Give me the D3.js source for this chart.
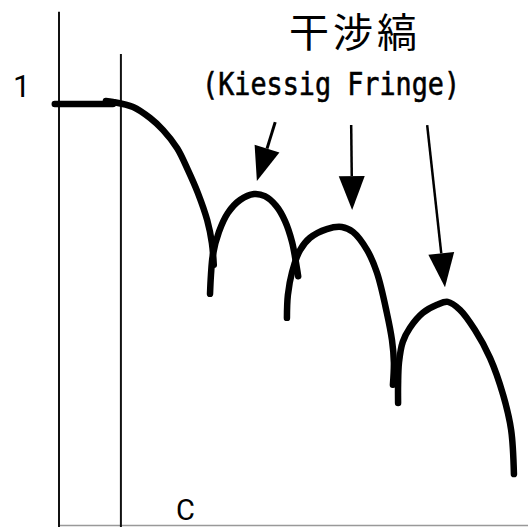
<!DOCTYPE html>
<html>
<head>
<meta charset="utf-8">
<script src="https://cdn.jsdelivr.net/npm/d3@7"></script>
<style>
    html, body { margin: 0; padding: 0; background: #fff; }
    svg { display: block; }
</style>
</head>
<body>
<div id="chart"></div>
<script>
/* global d3 */

// reflectivity curve pieces, [angle, intensity]
let plateau = [[-0.09, 1.0], [1.15, 1.0]]
let decay = [[1.00, 1.007], [1.15, 1.005], [1.58, 0.993], [1.94, 0.967], [2.22, 0.938], [2.52, 0.895],
    [2.75, 0.843], [2.96, 0.789], [3.16, 0.724], [3.26, 0.670], [3.30, 0.618]]
let fringe1 = [[3.22, 0.549], [3.24, 0.594], [3.28, 0.641], [3.41, 0.696], [3.60, 0.741], [3.86, 0.772],
    [4.16, 0.786], [4.39, 0.781], [4.63, 0.758], [4.82, 0.722], [4.97, 0.672], [5.05, 0.625], [5.10, 0.591]]
let fringe2 = [[4.86, 0.492], [4.88, 0.546], [4.97, 0.601], [5.14, 0.653], [5.35, 0.682], [5.71, 0.703],
    [6.03, 0.708], [6.27, 0.696], [6.57, 0.653], [6.78, 0.599], [6.99, 0.504], [7.10, 0.439], [7.14, 0.387], [7.12, 0.333]]
let fringe3 = [[7.23, 0.290], [7.23, 0.333], [7.25, 0.387], [7.33, 0.435], [7.48, 0.468], [7.76, 0.504],
    [8.06, 0.523], [8.29, 0.530], [8.55, 0.511], [8.87, 0.463], [9.19, 0.397], [9.47, 0.309], [9.64, 0.226], [9.70, 0.121]]

// arrows pointing at the fringe maxima: [x0, y0, xTip, yTip]
let arrows = [[4.61, 0.957, 4.22, 0.817], [6.23, 0.950, 6.25, 0.748], [7.85, 0.950, 8.23, 0.565]]

// vertical markers: [x, top]
let markers = [[0, 1.219], [1.32, 1.119]]

let titleText = '干涉縞'
let subtitleText = '(Kiessig Fringe)'
let yTickLabel = '1'
let xMarkLabel = 'C'

let svgWidth = 528
let svgHeight = 527

let svg = d3.select('#chart').append('svg')
    .attr('width', svgWidth)
    .attr('height', svgHeight)

let xScale = d3.scaleLinear().domain([0, 10]).range([59, 528])
let yScale = d3.scaleLinear().domain([0, 1]).range([525, 104])

// x axis, grey line along the bottom
let xAxis = d3.axisBottom(xScale).tickValues([]).tickSizeOuter(0)
svg.append('g')
    .attr('class', 'x axis')
    .attr('transform', 'translate(0,' + yScale(0) + ')')
    .call(xAxis)
    .select('.domain')
    .attr('stroke', '#999')
    .attr('stroke-width', 1.5)

svg.selectAll('.marker')
    .data(markers)
    .enter().append('line')
    .attr('class', 'marker')
    .attr('x1', function (d) { return xScale(d[0]) })
    .attr('x2', function (d) { return xScale(d[0]) })
    .attr('y1', function (d) { return yScale(d[1]) })
    .attr('y2', svgHeight)
    .attr('stroke', '#111')
    .attr('stroke-width', 2)

let valueline = d3.line()
    .x(function (d) { return xScale(d[0]) })
    .y(function (d) { return yScale(d[1]) })
    .curve(d3.curveCatmullRom)

svg.selectAll('.curve')
    .data([plateau, decay, fringe1, fringe2, fringe3])
    .enter().append('path')
    .attr('class', 'curve')
    .attr('d', valueline)
    .attr('fill', 'none')
    .attr('stroke', '#000')
    .attr('stroke-width', 6.5)
    .attr('stroke-linecap', 'round')
    .attr('stroke-linejoin', 'round')

// arrows
let headLen = 34
let headWidth = 26
arrows.forEach(function (a, i) {
    let x0 = xScale(a[0])
    let y0 = yScale(a[1])
    let x1 = xScale(a[2])
    let y1 = yScale(a[3])
    let len = Math.sqrt((x1 - x0) * (x1 - x0) + (y1 - y0) * (y1 - y0))
    let ux = (x1 - x0) / len
    let uy = (y1 - y0) / len
    let bx = x1 - ux * headLen
    let by = y1 - uy * headLen

    svg.append('line')
        .attr('x1', x0)
        .attr('y1', y0)
        .attr('x2', bx)
        .attr('y2', by)
        .attr('stroke', '#000')
        .attr('stroke-width', i === 0 ? 3 : 2.5)

    svg.append('path')
        .attr('d', 'M' + x1 + ',' + y1 +
            'L' + (bx - uy * headWidth / 2) + ',' + (by + ux * headWidth / 2) +
            'L' + (bx + uy * headWidth / 2) + ',' + (by - ux * headWidth / 2) + 'Z')
        .attr('fill', '#000')
})

// labels
svg.append('text')
    .attr('x', 355)
    .attr('y', 47)
    .attr('text-anchor', 'middle')
    .attr('font-family', '"Noto Sans CJK JP", sans-serif')
    .attr('font-size', 40)
    .attr('letter-spacing', 4)
    .text(titleText)

svg.append('text')
    .attr('x', 202)
    .attr('y', 95)
    .attr('font-family', '"DejaVu Sans Mono", monospace')
    .attr('font-size', 32)
    .attr('stroke', '#000')
    .attr('stroke-width', 0.6)
    .attr('textLength', 258)
    .attr('lengthAdjust', 'spacingAndGlyphs')
    .text(subtitleText)

svg.append('text')
    .attr('x', 13)
    .attr('y', 97)
    .attr('font-family', 'Roboto, "Liberation Sans", sans-serif')
    .attr('font-size', 31)
    .text(yTickLabel)

svg.append('text')
    .attr('x', 176)
    .attr('y', 520)
    .attr('font-family', 'Roboto, "Liberation Sans", sans-serif')
    .attr('font-size', 29)
    .text(xMarkLabel)
</script>
</body>
</html>
